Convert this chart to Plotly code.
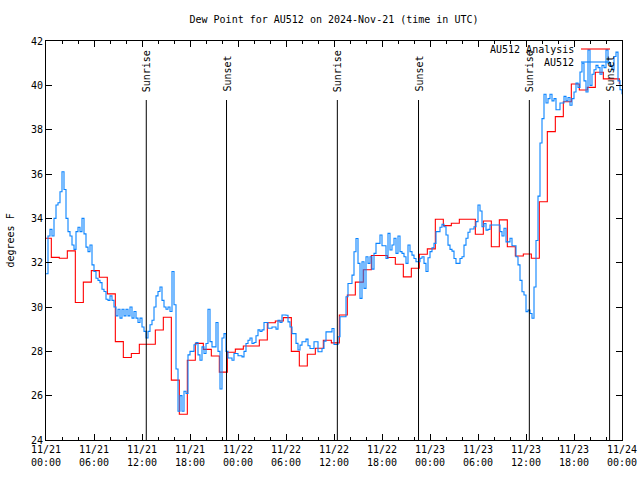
import plotly.graph_objects as go
import pandas as pd

# ---------------- data ----------------
title_text = "Dew Point for AU512 on 2024-Nov-21 (time in UTC)"
y_title = "degrees F"
series_names = ["AU512 Analysis", "AU512"]

# hourly analysis (step), first value valid from 2024-11-20 23:40
analysis_start = "2024-11-20 23:40"
analysis_values = [
    33.1, 32.24, 32.2, 32.53, 30.2, 31.12, 31.64, 31.34, 30.59, 28.44,
    27.72, 27.9, 28.32, 28.32, 28.96, 29.54, 26.7, 25.16, 27.6, 28.36,
    28.09, 27.79, 27.06, 27.96, 28.1, 28.24, 28.24, 28.51, 29.29, 29.37,
    29.52, 28.0, 27.34, 27.87, 28.14, 28.5, 28.38, 29.64, 30.54, 31.12,
    31.68, 32.32, 32.32, 32.23, 31.93, 31.36, 31.75, 32.38, 32.62, 33.96,
    33.67, 33.78, 33.96, 33.96, 33.28, 33.88, 32.72, 33.93, 32.72, 32.3,
    32.39, 32.2, 34.75, 37.91, 38.59, 39.26, 40.06, 39.79, 39.91, 40.59,
    40.29, 40.29, 40.06,
]

# observations every 15 minutes from 2024-11-21 00:00
obs_start = "2024-11-21 00:00"
obs_values = [
    31.5, 33.2, 33.5, 33.2,  34.0, 34.6, 34.7, 35.2,  36.1, 35.3, 34.0, 33.4,
    33.2, 32.8, 32.6, 33.4,  33.6, 33.4, 34.0, 33.3,  32.7, 32.5, 32.8, 31.9,
    31.6, 31.3, 31.2, 31.1,  30.8, 30.7, 30.35, 30.3, 30.5, 30.3, 30.0, 29.6,
    29.9, 29.5, 29.9, 29.6,  29.9, 29.6, 30.0, 29.5,  29.8, 29.5, 29.3, 29.5,
    29.1, 28.9, 28.6, 28.9,  29.2, 29.4, 30.0, 30.5,  30.7, 30.9, 30.3, 30.0,
    29.9, 30.0, 29.8, 31.6,  30.1, 27.2, 25.3, 26.0,  25.3, 26.2, 26.1, 27.84,
    28.0, 28.0, 28.3, 28.4,  27.84, 27.6, 28.2, 27.9, 28.35, 29.9, 28.44, 28.2,
    28.2, 29.3, 28.0, 26.3,  28.6, 28.8, 28.0, 27.7,  27.7, 27.6, 27.9, 27.9,
    27.8, 27.8, 27.75, 28.0, 28.35, 28.5, 28.6, 28.35, 28.4, 28.7, 28.97, 28.9,
    28.97, 29.3, 29.3, 29.04, 29.04, 29.1, 29.1, 29.0, 29.4, 29.3, 29.64, 29.64,
    29.63, 29.33, 29.1, 28.8, 28.8, 28.36, 28.06, 28.28, 28.43, 28.43, 28.55, 28.25,
    28.13, 28.13, 28.43, 28.43, 27.98, 27.98, 28.13, 28.46, 28.88, 28.88, 28.88, 29.03,
    28.31, 28.31, 28.66, 29.56, 29.56, 29.56, 30.46, 31.06, 31.06, 31.44, 32.49, 33.09,
    31.97, 30.39, 32.04, 30.84, 32.27, 31.97, 32.27, 31.71, 32.42, 32.87, 32.87, 33.25,
    32.76, 32.76, 32.19, 33.32, 32.57, 32.8, 33.1, 32.42, 33.2, 32.5, 32.42, 32.27,
    31.97, 32.8, 32.5, 32.34, 32.19, 32.04, 32.04, 32.2, 32.27, 31.97, 31.6, 32.22,
    32.5, 32.67, 32.87, 33.4, 33.4, 33.6, 33.73, 33.62, 33.25, 32.79, 32.6, 32.52,
    32.19, 31.97, 31.97, 32.19, 32.27, 32.79, 33.1, 33.37, 33.52, 33.52, 33.62, 33.85,
    34.6, 34.33, 33.62, 33.77, 33.47, 33.5, 33.7, 33.7, 33.7, 33.7, 33.7, 33.4,
    33.2, 33.55, 32.94, 32.94, 33.1, 32.76, 32.76, 32.27, 31.9, 31.2, 30.69, 30.54,
    29.79, 29.86, 29.71, 29.49, 30.9, 33.0, 35.0, 37.4, 38.5, 39.6, 39.2, 39.4,
    39.6, 39.3, 39.4, 38.9, 38.9, 39.2, 39.2, 39.5, 39.3, 39.45, 39.1, 39.4,
    39.7, 40.1, 39.9, 40.6, 41.0, 40.2, 39.7, 41.6, 40.0, 40.5, 40.7, 40.9,
    40.8, 40.5, 40.9, 40.8, 41.6, 41.0, 40.9, 40.7, 41.3, 41.5, 40.2, 39.8,
    39.6,
]

event_names = ["Sunrise", "Sunset", "Sunrise", "Sunset", "Sunrise", "Sunset"]
event_times = ["2024-11-21 12:32", "2024-11-21 22:34", "2024-11-22 12:25",
               "2024-11-22 22:34", "2024-11-23 12:25", "2024-11-23 22:27"]

x_tick_labels = ["11/21<br>00:00", "11/21<br>06:00", "11/21<br>12:00", "11/21<br>18:00",
                 "11/22<br>00:00", "11/22<br>06:00", "11/22<br>12:00", "11/22<br>18:00",
                 "11/23<br>00:00", "11/23<br>06:00", "11/23<br>12:00", "11/23<br>18:00",
                 "11/24<br>00:00"]
x_range = ["2024-11-21 00:00", "2024-11-24 00:00"]
y_ticks = [24, 26, 28, 30, 32, 34, 36, 38, 40, 42]

# ---------------- figure ----------------
analysis_times = pd.date_range(analysis_start, periods=len(analysis_values), freq="1h")
obs_times = pd.date_range(obs_start, periods=len(obs_values), freq="15min")
x_tick_times = pd.date_range(x_range[0], x_range[1], freq="6h")

FONT = "DejaVu Sans Mono"
RED = "#ff0000"
BLUE = "#0a84ff"

fig = go.Figure()
fig.add_trace(go.Scatter(x=analysis_times, y=analysis_values, mode="lines",
                         name=series_names[0], showlegend=False,
                         line=dict(color=RED, width=1.1, shape="hv")))
fig.add_trace(go.Scatter(x=obs_times, y=obs_values, mode="lines",
                         name=series_names[1], showlegend=False,
                         line=dict(color=BLUE, width=1.1, shape="hv")))

L, R, T, B = 46, 18, 41, 40
W, H = 640, 480
pw, ph = W - L - R, H - T - B


def px_x(px):
    return (px - L) / pw


def px_y(py):
    return (H - B - py) / ph


shapes = []
annotations = []
for name, t in zip(event_names, event_times):
    shapes.append(dict(type="line", xref="x", yref="paper", x0=t, x1=t,
                       y0=0, y1=px_y(100), line=dict(color="black", width=1)))
    annotations.append(dict(text=name, x=t, xref="x", y=px_y(94), yref="paper",
                            textangle=-90, xanchor="center", yanchor="bottom",
                            showarrow=False, font=dict(family=FONT, size=10, color="black")))

# legend (text then sample line, gnuplot style)
for i, (nm, col) in enumerate(zip(series_names, [RED, BLUE])):
    py = 49 + i * 13
    annotations.append(dict(text=nm, x=px_x(576), xref="paper", y=px_y(py), yref="paper",
                            xanchor="right", yanchor="middle", showarrow=False,
                            font=dict(family=FONT, size=10, color="black")))
    shapes.append(dict(type="line", xref="paper", yref="paper", x0=px_x(581), x1=px_x(610),
                       y0=px_y(py), y1=px_y(py), line=dict(color=col, width=1.1)))

annotations.append(dict(text=y_title, x=px_x(10), xref="paper", y=0.5, yref="paper",
                        textangle=-90, xanchor="center", yanchor="middle", showarrow=False,
                        font=dict(family=FONT, size=10, color="black")))

fig.update_layout(
    width=W, height=H,
    margin=dict(l=L, r=R, t=T, b=B, pad=0, autoexpand=False),
    paper_bgcolor="white", plot_bgcolor="white",
    font=dict(family=FONT, size=10, color="black"),
    title=dict(text=title_text, x=0.5, xref="paper", y=1 - 19 / H, yref="container",
               xanchor="center", yanchor="middle", automargin=False,
               font=dict(family=FONT, size=10, color="black")),
    shapes=shapes, annotations=annotations,
    showlegend=False,
)
fig.update_xaxes(type="date", range=x_range, tickvals=x_tick_times, ticktext=x_tick_labels,
                 ticks="inside", ticklen=6, tickcolor="black", showgrid=False, zeroline=False,
                 showline=True, linecolor="black", linewidth=1, mirror="ticks", automargin=False,
                 minor=dict(dtick=2 * 3600 * 1000, ticks="inside", ticklen=3,
                            tickcolor="black", showgrid=False),
                 tickfont=dict(family=FONT, size=10, color="black"))
fig.update_yaxes(range=[24, 42], tickvals=y_ticks, ticks="inside", ticklen=6, tickcolor="black",
                 showgrid=False, zeroline=False, showline=True, linecolor="black", linewidth=1,
                 mirror="ticks", automargin=False,
                 tickfont=dict(family=FONT, size=10, color="black"))

fig.write_html("out.html", config={"displayModeBar": False},
               post_script="document.body.style.margin='0';document.body.style.padding='0';")
